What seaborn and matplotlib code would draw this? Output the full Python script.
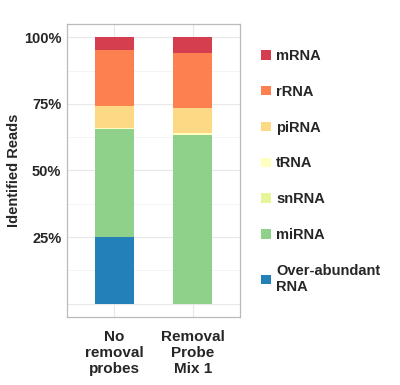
import numpy as np
import pandas as pd
import seaborn as sns
import matplotlib.pyplot as plt
from matplotlib.patches import Patch
from matplotlib.ticker import MultipleLocator

# 샘플 / RNA 종류 (아래에서 위로 쌓는 순서)
samples = ["No\nremoval\nprobes", "Removal\nProbe\nMix 1"]
rna_types = ["Over-abundant\nRNA", "miRNA", "snRNA", "tRNA", "piRNA", "rRNA", "mRNA"]
over_abundant = [25.2, 0.0]
mirna = [40.3, 63.3]
snrna = [0.1, 0.2]
trna = [0.2, 0.6]
pirna = [8.5, 9.4]
rrna = [21.0, 20.6]
mrna = [4.7, 5.9]
colors = ["#2480B9", "#8FD18B", "#E6F598", "#FFFFBF", "#FDD985", "#FC8050", "#D53E4F"]

df = pd.DataFrame(
    [over_abundant, mirna, snrna, trna, pirna, rrna, mrna],
    index=rna_types, columns=samples,
)
cum = df.cumsum()

sns.set_style("white")
plt.rcParams["font.family"] = ["Liberation Sans", "DejaVu Sans"]

fig = plt.figure(figsize=(4, 3.85), dpi=100)
ax = fig.add_axes([0.1675, 0.1766, 0.4325, 0.7611])

# 누적값을 위에서부터 그려서 아래 막대가 덮도록
for name, col in zip(rna_types[::-1], colors[::-1]):
    sns.barplot(x=samples, y=cum.loc[name].values, color=col, width=0.5,
                saturation=1, linewidth=0, edgecolor="none", ax=ax, zorder=3)

ax.set_xlim(-0.6, 1.6)
ax.set_ylim(-5, 105)
ax.yaxis.set_minor_locator(MultipleLocator(12.5))
ax.set_yticks([0, 25, 50, 75, 100])
ax.set_yticklabels(["", "25%", "50%", "75%", "100%"], fontweight="bold", fontsize=10.5)
ax.set_xticks([0, 1])
ax.set_xticklabels(samples, fontweight="bold", fontsize=11, linespacing=1.2)
ax.set_xticks([0.5], minor=True)
ax.grid(True, which="major", color="#E8E8E8", lw=0.8, zorder=0)
ax.grid(True, which="minor", axis="y", color="#F2F2F2", lw=0.6, zorder=0)
ax.set_axisbelow(True)
for s in ax.spines.values():
    s.set_color("#BBBBBB")
    s.set_linewidth(0.9)
ax.tick_params(axis="y", which="major", length=3, color="#BBBBBB", pad=1)
ax.tick_params(axis="x", which="major", length=3, color="#BBBBBB", pad=6)
ax.tick_params(axis="both", which="minor", length=0)
ax.set_xlabel("")
ax.set_ylabel("Identified Reads", fontweight="bold", fontsize=10.5, labelpad=2)

handles = [Patch(facecolor=c, edgecolor="none", label=n)
           for n, c in zip(rna_types[::-1], colors[::-1])]
leg = ax.legend(handles=handles, loc="upper left", bbox_to_anchor=(1.09, 0.935),
                frameon=False, handlelength=0.65, handleheight=0.65,
                handletextpad=0.35, labelspacing=1.5, borderaxespad=0,
                prop={"weight": "bold", "size": 10.5})

fig.savefig("out.png", dpi=100)
